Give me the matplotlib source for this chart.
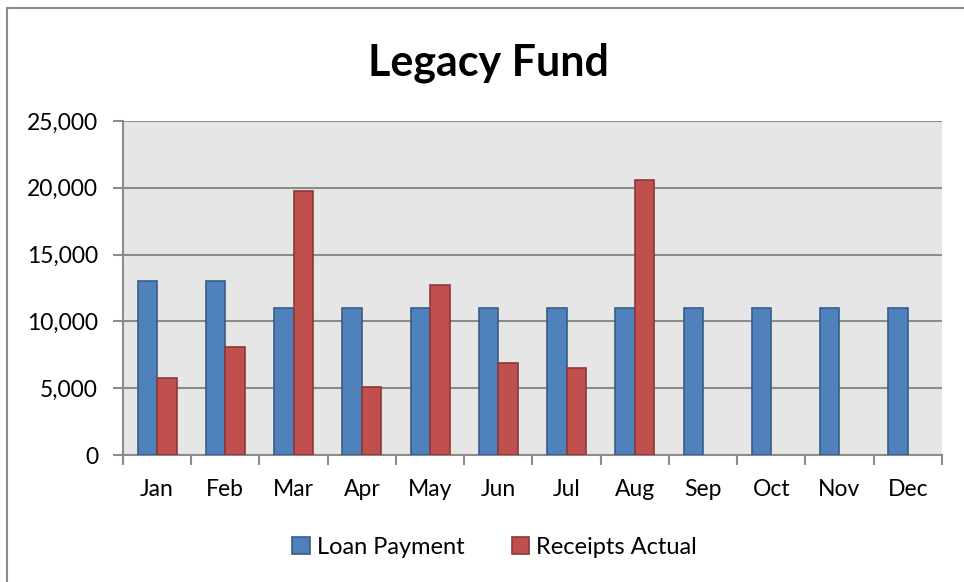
import numpy as np
import matplotlib.pyplot as plt
from matplotlib.lines import Line2D

months = ['Jan', 'Feb', 'Mar', 'Apr', 'May', 'Jun',
          'Jul', 'Aug', 'Sep', 'Oct', 'Nov', 'Dec']
loan_payment = [13000, 13000, 11000, 11000, 11000, 11000,
                11000, 11000, 11000, 11000, 11000, 11000]
# receipts only through August
receipts_actual = [5800, 8100, 19750, 5100, 12700, 6900, 6500, 20550]

plt.rcParams['font.family'] = ['Lato', 'DejaVu Sans']

fig = plt.figure(figsize=(9.64, 5.82), dpi=100)
ax = fig.add_axes([0.1276, 0.2182, 0.8494, 0.5739])

x = np.arange(len(months))
w = 1 / 3.5

ax.bar(x - w / 2, loan_payment, w, color='#4F81BD', edgecolor='#385D8A',
       linewidth=1.2, label='Loan Payment', zorder=3)
ax.bar(x[:len(receipts_actual)] + w / 2, receipts_actual, w, color='#C0504D',
       edgecolor='#8C3836', linewidth=1.2, label='Receipts Actual', zorder=3)

ax.set_facecolor('#E6E6E6')
ax.set_xlim(-0.5, 11.5)
ax.set_ylim(0, 25000)
ax.set_yticks(np.arange(0, 25001, 5000))
ax.set_yticklabels(['{:,}'.format(v) for v in range(0, 25001, 5000)])
ax.grid(axis='y', color='#8C8C8C', linewidth=1.5, zorder=1)

ax.set_xticks(x)
ax.set_xticklabels(months)
ax.set_xticks(np.arange(-0.5, 12, 1), minor=True)
ax.tick_params(axis='x', which='major', length=0, pad=17, labelsize=16.5)
ax.tick_params(axis='x', which='minor', length=7, color='#8C8C8C', width=1.5)
ax.tick_params(axis='y', length=7, color='#8C8C8C', width=1.5, labelsize=16.5, pad=11)

for s in ['top', 'right']:
    ax.spines[s].set_visible(False)
for s in ['left', 'bottom']:
    ax.spines[s].set_color('#8C8C8C')
    ax.spines[s].set_linewidth(1.5)

fig.text(0.507, 0.893, 'Legacy Fund', fontsize=31, fontweight='bold',
         ha='center', va='center')

fig.legend(loc='center', bbox_to_anchor=(0.513, 0.06), ncol=2, frameon=False,
           fontsize=17, handlelength=0.75, handleheight=0.75, handletextpad=0.3,
           columnspacing=2.0)

# chart border: only top and left edges are inside the picture
fig.lines.append(Line2D([0.0073, 1.0], [0.986, 0.986], transform=fig.transFigure,
                        color='#8C8C8C', linewidth=1.5))
fig.lines.append(Line2D([0.0073, 0.0073], [0.0, 0.986], transform=fig.transFigure,
                        color='#8C8C8C', linewidth=1.5))

plt.savefig('out.png', dpi=100)
